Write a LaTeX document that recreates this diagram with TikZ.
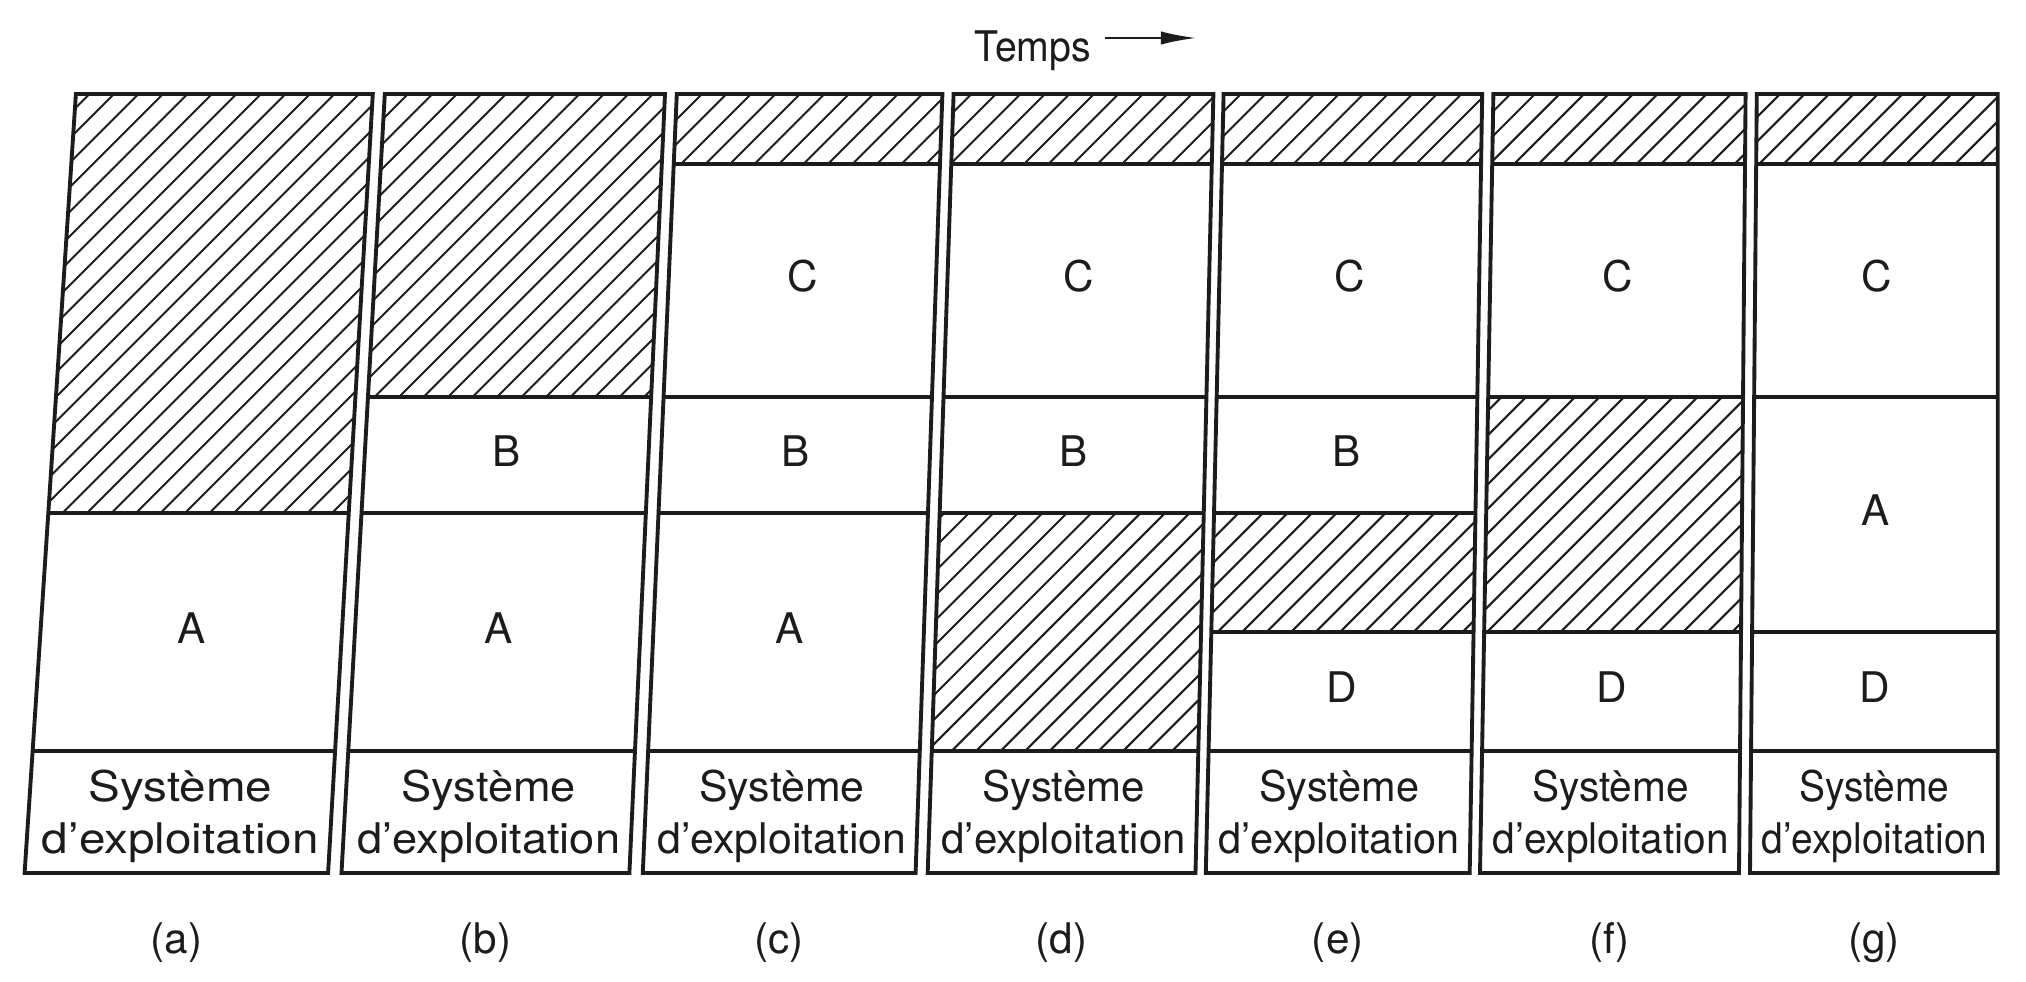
\documentclass[tikz,border=0pt]{standalone}
\usepackage{fontspec}
\usepackage{graphicx}
\setmainfont{TeX Gyre Heros}
\usetikzlibrary{calc,arrows.meta}
\definecolor{ink}{RGB}{30,27,28}
% column corners: name, left-top x, left-bottom x, right-top x, right-bottom x
\newcommand\defcol[5]{%
  \foreach \i/\yy in {0/94,1/164,2/397,3/513,4/632,5/751,6/873}{%
    \pgfmathsetmacro\myfrac{(\yy-94)/779}%
    \coordinate (#1L\i) at ({#2+(#3-#2)*\myfrac},\yy);%
    \coordinate (#1R\i) at ({#4+(#5-#4)*\myfrac},\yy);%
  }}
\newcommand\ostxt[1]{\scalebox{#1}[1]{\begin{tabular}{@{}c@{}}Système\\d’exploitation\end{tabular}}}
\begin{document}
\begin{tikzpicture}[x=0.01cm,y=-0.01cm,
  box/.style={draw=ink,line width=1.1pt,line join=miter},
  hatchline/.style={draw=ink,line width=0.6pt},
  lab/.style={inner sep=0pt,text=ink,font=\fontsize{12}{15}\selectfont},
  letter/.style={lab,yshift=0.04cm},
  ostext/.style={lab,yshift=-0.05cm},
  caption/.style={lab}]
\useasboundingbox (0,0) rectangle (2026,982);
\fill[white] (0,0) rectangle (2026,982);

\defcol{a}{75.9}{24.6}{372.8}{328.1}
\defcol{b}{384.8}{341.5}{665}{629.4}
\defcol{c}{676.8}{642.8}{942.4}{915.6}
\defcol{d}{953.6}{927.7}{1213.4}{1195.5}
\defcol{e}{1223.6}{1205.8}{1482.2}{1469.7}
\defcol{f}{1493.4}{1480}{1745.6}{1739}
\defcol{g}{1756.8}{1750}{1997.8}{1997.8}

% hatched (free) regions
\begin{scope}
\clip (aL0)--(aR0)--(aR3)--(aL3)--cycle
      (bL0)--(bR0)--(bR2)--(bL2)--cycle
      (cL0)--(cR0)--(cR1)--(cL1)--cycle
      (dL0)--(dR0)--(dR1)--(dL1)--cycle
      (dL3)--(dR3)--(dR5)--(dL5)--cycle
      (eL0)--(eR0)--(eR1)--(eL1)--cycle
      (eL3)--(eR3)--(eR4)--(eL4)--cycle
      (fL0)--(fR0)--(fR1)--(fL1)--cycle
      (fL2)--(fR2)--(fR4)--(fL4)--cycle
      (gL0)--(gR0)--(gR1)--(gL1)--cycle;
\foreach \c in {12,36.5,...,2900} \draw[hatchline] (\c,0) -- ++(-1000,1000);
\end{scope}

% outlines and partitions
\draw[box] (aL0)--(aR0)--(aR6)--(aL6)--cycle (aL3)--(aR3) (aL5)--(aR5);
\draw[box] (bL0)--(bR0)--(bR6)--(bL6)--cycle (bL2)--(bR2) (bL3)--(bR3) (bL5)--(bR5);
\draw[box] (cL0)--(cR0)--(cR6)--(cL6)--cycle (cL1)--(cR1) (cL2)--(cR2) (cL3)--(cR3) (cL5)--(cR5);
\draw[box] (dL0)--(dR0)--(dR6)--(dL6)--cycle (dL1)--(dR1) (dL2)--(dR2) (dL3)--(dR3) (dL5)--(dR5);
\draw[box] (eL0)--(eR0)--(eR6)--(eL6)--cycle (eL1)--(eR1) (eL2)--(eR2) (eL3)--(eR3) (eL4)--(eR4) (eL5)--(eR5);
\draw[box] (fL0)--(fR0)--(fR6)--(fL6)--cycle (fL1)--(fR1) (fL2)--(fR2) (fL4)--(fR4) (fL5)--(fR5);
\draw[box] (gL0)--(gR0)--(gR6)--(gL6)--cycle (gL1)--(gR1) (gL2)--(gR2) (gL4)--(gR4) (gL5)--(gR5);

% process letters
\node[letter] (aA) at ($(aL3)!.5!(aR5)$) {A};
\node[letter] (bB) at ($(bL2)!.5!(bR3)$) {B};
\node[letter] (bA) at ($(bL3)!.5!(bR5)$) {A};
\node[letter] (cC) at ($(cL1)!.5!(cR2)$) {C};
\node[letter] (cB) at ($(cL2)!.5!(cR3)$) {B};
\node[letter] (cA) at ($(cL3)!.5!(cR5)$) {A};
\node[letter] (dC) at ($(dL1)!.5!(dR2)$) {C};
\node[letter] (dB) at ($(dL2)!.5!(dR3)$) {B};
\node[letter] (eC) at ($(eL1)!.5!(eR2)$) {C};
\node[letter] (eB) at ($(eL2)!.5!(eR3)$) {B};
\node[letter] (eD) at ($(eL4)!.5!(eR5)$) {D};
\node[letter] (fC) at ($(fL1)!.5!(fR2)$) {C};
\node[letter] (fD) at ($(fL4)!.5!(fR5)$) {D};
\node[letter] (gC) at ($(gL1)!.5!(gR2)$) {C};
\node[letter] (gA) at ($(gL2)!.5!(gR4)$) {A};
\node[letter] (gD) at ($(gL4)!.5!(gR5)$) {D};

% operating system boxes
\node[ostext] (aOS) at ($(aL5)!.5!(aR6)$) {\ostxt{1.129}};
\node[ostext] (bOS) at ($(bL5)!.5!(bR6)$) {\ostxt{1.071}};
\node[ostext] (cOS) at ($(cL5)!.5!(cR6)$) {\ostxt{1.015}};
\node[ostext] (dOS) at ($(dL5)!.5!(dR6)$) {\ostxt{0.996}};
\node[ostext] (eOS) at ($(eL5)!.5!(eR6)$) {\ostxt{0.982}};
\node[ostext] (fOS) at ($(fL5)!.5!(fR6)$) {\ostxt{0.963}};
\node[ostext] (gOS) at ($(gL5)!.5!(gR6)$) {\ostxt{0.922}};

% captions
\node[caption] (la) at ($(aL6)!.5!(aR6)+(0,70)$) {(a)};
\node[caption] (lb) at ($(bL6)!.5!(bR6)+(0,70)$) {(b)};
\node[caption] (lc) at ($(cL6)!.5!(cR6)+(0,70)$) {(c)};
\node[caption] (ld) at ($(dL6)!.5!(dR6)+(0,70)$) {(d)};
\node[caption] (le) at ($(eL6)!.5!(eR6)+(0,70)$) {(e)};
\node[caption] (lf) at ($(fL6)!.5!(fR6)+(0,70)$) {(f)};
\node[caption] (lg) at ($(gL6)!.5!(gR6)+(0,70)$) {(g)};

% time arrow
\node[lab,anchor=base] (temps) at (1033,62) {\scalebox{0.93}[1]{Temps}};
\coordinate (tA) at (1105,38);
\coordinate (tB) at (1196,38);
\draw[draw=ink,line width=0.6pt,-{Latex[length=10pt,width=3.8pt]}] (tA) -- (tB);
\end{tikzpicture}
\end{document}
